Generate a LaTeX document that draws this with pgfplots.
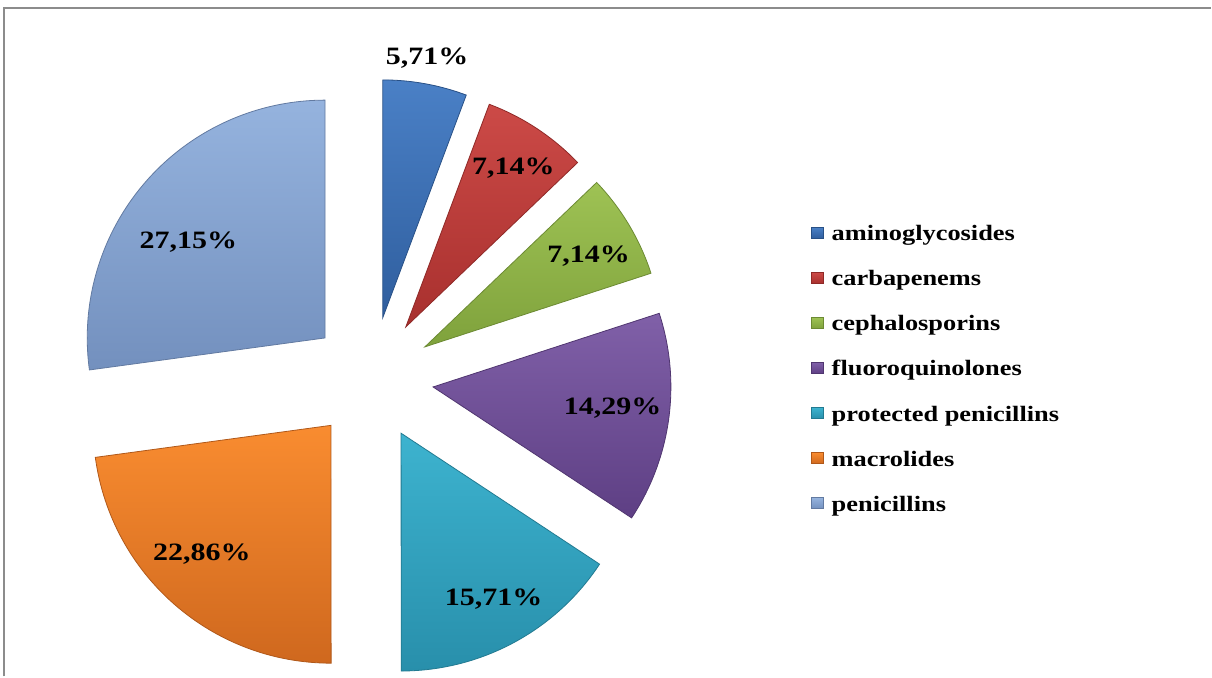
\documentclass[border=0pt]{standalone}
\usepackage{pgfplots}
\pgfplotsset{compat=1.18}
\usepackage{pgfplotstable}
\usepackage{fontspec}
\setmainfont{Liberation Serif}[FakeStretch=1.2]

\definecolor{c0t}{HTML}{4A80C6}\definecolor{c0b}{HTML}{2F5E9E}
\definecolor{c1t}{HTML}{CC4A47}\definecolor{c1b}{HTML}{A8302E}
\definecolor{c2t}{HTML}{9EC254}\definecolor{c2b}{HTML}{7FA23C}
\definecolor{c3t}{HTML}{8060A8}\definecolor{c3b}{HTML}{5E3F84}
\definecolor{c4t}{HTML}{3DB3CF}\definecolor{c4b}{HTML}{288FAB}
\definecolor{c5t}{HTML}{F98C30}\definecolor{c5b}{HTML}{CF681E}
\definecolor{c6t}{HTML}{95B3DE}\definecolor{c6b}{HTML}{7390BE}

% value = share in percent; lf = label distance (fraction of radius); da = label angle offset
\pgfplotstableread[col sep=comma]{
name,value,lf,da
aminoglycosides,5.71,1.108,0.6
carbapenems,7.14,0.808,-0.65
cephalosporins,7.14,0.786,-2.0
fluoroquinolones,14.29,0.76,1.1
protected penicillins,15.71,0.80,0.8
macrolides,22.86,0.768,-3.9
penicillins,27.15,0.703,6.0
}\piedata

\tikzset{
  lbl/.style={font=\bfseries\fontsize{12.5}{14}\selectfont, inner sep=0pt},
  leg/.style={font=\bfseries\fontsize{11}{13}\selectfont, inner sep=0pt, anchor=base west},
}

\begin{document}
\begin{tikzpicture}
\begin{axis}[hide axis, scale only axis, width=606pt, height=338.5pt,
  xmin=0, xmax=1212, ymin=0, ymax=677, clip=false]
\fill[white] (axis cs:0,0) rectangle (axis cs:1212,677);
\draw[color=black!45, line width=1pt] (axis cs:4,0) -- (axis cs:4,669) -- (axis cs:1212,669);
\pgfplotstablegetrowsof{\piedata}
\pgfmathtruncatemacro\nrows{\pgfplotsretval-1}
\def\cum{0}
\pgfplotsforeachungrouped \i in {0,...,\nrows}{%
  \pgfplotstablegetelem{\i}{value}\of\piedata \let\val\pgfplotsretval
  \pgfplotstablegetelem{\i}{lf}\of\piedata \let\lf\pgfplotsretval
  \pgfplotstablegetelem{\i}{da}\of\piedata \let\da\pgfplotsretval
  \pgfplotstablegetelem{\i}{name}\of\piedata \let\nm\pgfplotsretval
  \pgfmathsetmacro\sa{90-3.6*\cum}%
  \pgfmathsetmacro\ea{\sa-3.6*\val}%
  \pgfmathsetmacro\ma{(\sa+\ea)/2}%
  \pgfmathsetmacro\ox{372+62*cos(\ma)}%
  \pgfmathsetmacro\oy{298+62*sin(\ma)}%
  \pgfmathsetmacro\lx{\ox+\lf*238*cos(\ma+\da)}%
  \pgfmathsetmacro\ly{\oy+\lf*238*sin(\ma+\da)}%
  \pgfmathsetmacro\gy{444-45.1*\i}%
  \pgfmathsetmacro\gya{\gy-5.5}%
  \pgfmathsetmacro\gyb{\gy+5.5}%
  \pgfmathsetmacro\gbl{\gy-8}%
  \edef\temp{%
    \noexpand\path[top color=c\i t, bottom color=c\i b, draw=c\i b!85!black, line width=0.4pt]
      (axis cs:\ox,\oy) -- ++(\sa:119pt) arc[start angle=\sa, end angle=\ea, radius=119pt] -- cycle;
    \noexpand\node[lbl] at (axis cs:\lx,\ly)
      {\noexpand\pgfmathprintnumber[fixed,fixed zerofill,precision=2,use comma,assume math mode=true]{\val}\noexpand\%};
    \noexpand\path[top color=c\i t, bottom color=c\i b, draw=c\i b!85!black, line width=0.3pt]
      (axis cs:812,\gya) rectangle (axis cs:824,\gyb);
    \noexpand\node[leg] at (axis cs:832,\gbl) {\nm};
  }\temp
  \pgfmathsetmacro\cum{\cum+\val}%
}
\end{axis}
\end{tikzpicture}
\end{document}
